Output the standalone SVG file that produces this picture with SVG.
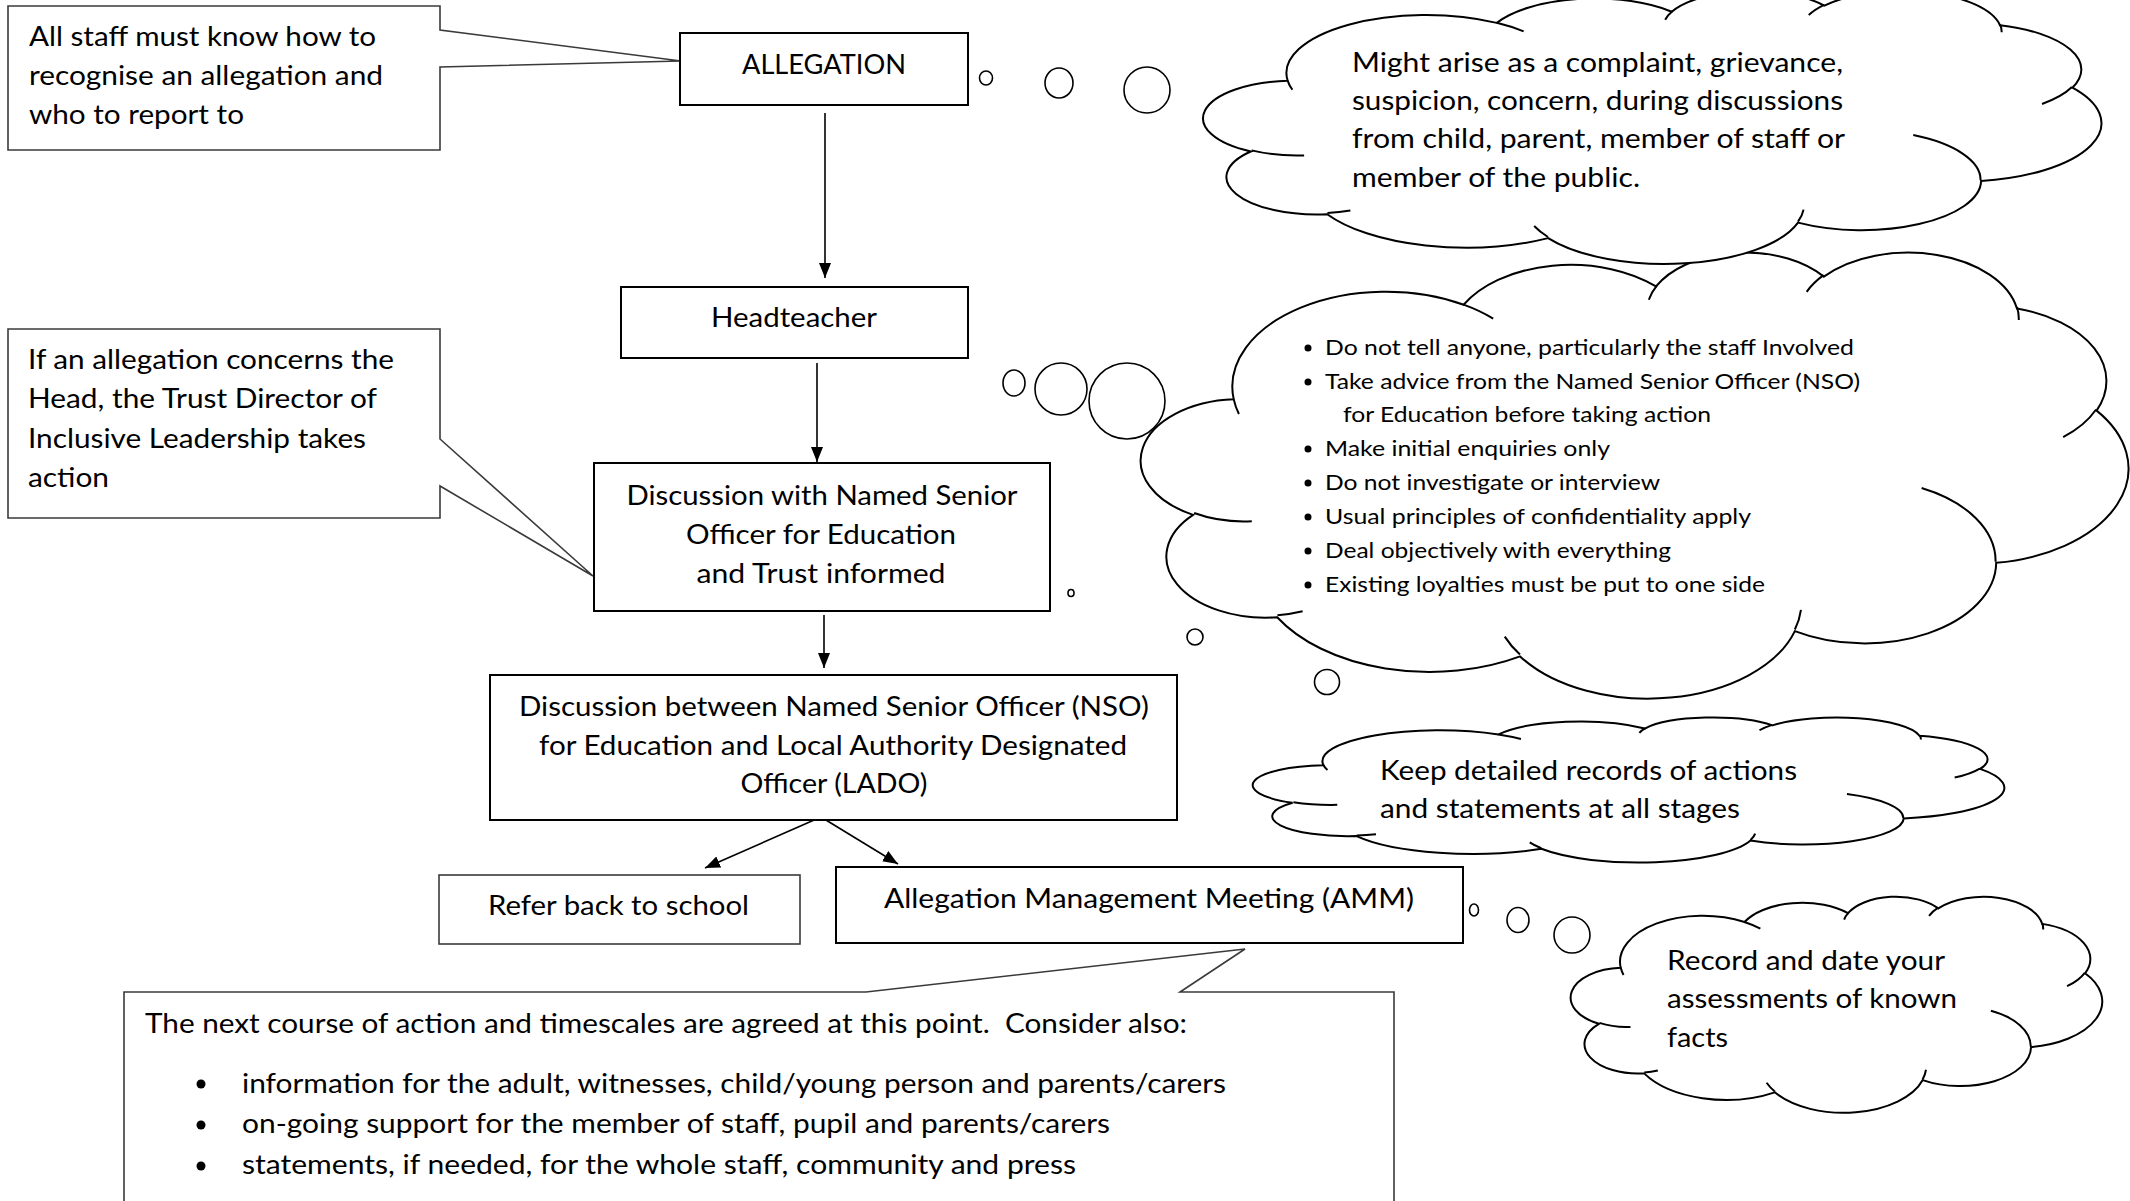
<svg xmlns="http://www.w3.org/2000/svg" width="2130" height="1201" viewBox="0 0 2130 1201">
<style>
.box{fill:#fff;stroke:#000;stroke-width:2}
.call{fill:#fff;stroke:#3a3a3a;stroke-width:1.6}
.cl{fill:#fff;stroke:#000;stroke-width:2}
.ci{fill:none;stroke:#000;stroke-width:2}
.bub{fill:#fff;stroke:#000;stroke-width:1.6}
.con{stroke:#000;stroke-width:1.6;fill:none}
text{font-family:Lato,"Liberation Sans",sans-serif;font-size:26px;fill:#000}
.sm{font-size:21px}
.mid{text-anchor:middle}
</style>
<defs>
<path id="cloudOut" vector-effect="non-scaling-stroke" d="M3900,14370 A6753,9190 0 0 1 14005,5202 A5333,7267 0 0 1 22457,3434 A4365,5945 0 0 1 29834,2482 A4857,6595 0 0 1 38319,5577 A5333,7273 0 0 1 41820,15461 A6775,9220 0 0 1 37407,30205 A5785,7867 0 0 1 28559,36815 A6752,9215 0 0 1 16484,39267 A7720,10543 0 0 1 5809,35476 A4360,5918 0 0 1 2115,25555 A4345,5945 0 0 1 3900,14370 Z"/>
<path id="cloudIn" vector-effect="non-scaling-stroke" d="M4693,26177 A4345,5945 0 0 1 2159,25379 M6928,34899 A4360,5918 0 0 1 5820,35280 M16478,39090 A6752,9215 0 0 1 15810,37349 M28827,34751 A6752,9215 0 0 1 28560,36660 M34129,22954 A5785,7867 0 0 1 37381,30090 M41798,15354 A5333,7273 0 0 1 40350,18030 M38324,5426 A4857,6595 0 0 1 38400,6690 M29078,3952 A4857,6595 0 0 1 29820,2340 M22141,4720 A4365,5945 0 0 1 22500,3330 M14000,5192 A6753,9190 0 0 1 15302,6543 M4127,15789 A6753,9190 0 0 1 3900,14371"/>
<marker id="ah" viewBox="0 0 15 12" refX="15" refY="6" markerWidth="15" markerHeight="12" markerUnits="userSpaceOnUse" orient="auto">
<path d="M0,0 L15,6 L0,12 Z" fill="#000"/>
</marker>
</defs>

<g id="connectors">
<line class="con" x1="825" y1="113" x2="825" y2="278" marker-end="url(#ah)"/>
<line class="con" x1="817" y1="363" x2="817" y2="462" marker-end="url(#ah)"/>
<line class="con" x1="824" y1="615" x2="824" y2="668" marker-end="url(#ah)"/>
<line class="con" x1="821" y1="817" x2="705" y2="868" marker-end="url(#ah)"/>
<line class="con" x1="821" y1="817" x2="898" y2="864" marker-end="url(#ah)"/>
</g>

<g id="note-all-staff">
<path class="call" d="M8,6 H440 V30 L681,61 L440,67 V150 H8 Z"/>
<text x="29" y="46" textLength="347" lengthAdjust="spacingAndGlyphs">All staff must know how to</text>
<text x="29" y="85" textLength="354" lengthAdjust="spacingAndGlyphs">recognise an allegation and</text>
<text x="29" y="124" textLength="215" lengthAdjust="spacingAndGlyphs">who to report to</text>
</g>

<g id="allegation">
<rect class="box" x="680" y="33" width="288" height="72"/>
<text class="mid" x="824" y="74" textLength="164" lengthAdjust="spacingAndGlyphs">ALLEGATION</text>
</g>

<g id="headteacher">
<rect class="box" x="621" y="287" width="347" height="71"/>
<text class="mid" x="794" y="327" textLength="166" lengthAdjust="spacingAndGlyphs">Headteacher</text>
</g>

<g id="note-head">
<path class="call" d="M8,329 H440 V439 L593,576 L440,486 V518 H8 Z"/>
<text x="28" y="369" textLength="366" lengthAdjust="spacingAndGlyphs">If an allegation concerns the</text>
<text x="28" y="408" textLength="349" lengthAdjust="spacingAndGlyphs">Head, the Trust Director of</text>
<text x="28" y="448" textLength="338" lengthAdjust="spacingAndGlyphs">Inclusive Leadership takes</text>
<text x="28" y="487" textLength="81" lengthAdjust="spacingAndGlyphs">action</text>
</g>

<g id="discussion-nso">
<rect class="box" x="594" y="463" width="456" height="148"/>
<text class="mid" x="822" y="505" textLength="391" lengthAdjust="spacingAndGlyphs">Discussion with Named Senior</text>
<text class="mid" x="821" y="544" textLength="270" lengthAdjust="spacingAndGlyphs">Officer for Education</text>
<text class="mid" x="821" y="583" textLength="249" lengthAdjust="spacingAndGlyphs">and Trust informed</text>
</g>

<g id="discussion-lado">
<rect class="box" x="490" y="675" width="687" height="145"/>
<text class="mid" x="834" y="716" textLength="630" lengthAdjust="spacingAndGlyphs">Discussion between Named Senior Officer (NSO)</text>
<text class="mid" x="833" y="755" textLength="588" lengthAdjust="spacingAndGlyphs">for Education and Local Authority Designated</text>
<text class="mid" x="834" y="793" textLength="187" lengthAdjust="spacingAndGlyphs">Officer (LADO)</text>
</g>

<g id="refer-back">
<rect class="call" x="439" y="875" width="361" height="69"/>
<text x="488" y="915" textLength="261" lengthAdjust="spacingAndGlyphs">Refer back to school</text>
</g>

<g id="amm">
<rect class="box" x="836" y="867" width="627" height="76"/>
<text x="884" y="908" textLength="530" lengthAdjust="spacingAndGlyphs">Allegation Management Meeting (AMM)</text>
</g>

<g id="note-amm">
<path class="call" d="M124,1215 V992 H866 L1245,949 L1180,992 H1394 V1215"/>
<text x="145" y="1033" textLength="1042" lengthAdjust="spacingAndGlyphs">The next course of action and timescales are agreed at this point.&#160; Consider also:</text>
<circle cx="201" cy="1084" r="4.5"/>
<circle cx="201" cy="1125" r="4.5"/>
<circle cx="201" cy="1166" r="4.5"/>
<text x="242" y="1093" textLength="984" lengthAdjust="spacingAndGlyphs">information for the adult, witnesses, child/young person and parents/carers</text>
<text x="242" y="1133" textLength="868" lengthAdjust="spacingAndGlyphs">on-going support for the member of staff, pupil and parents/carers</text>
<text x="242" y="1174" textLength="834" lengthAdjust="spacingAndGlyphs">statements, if needed, for the whole staff, community and press</text>
</g>

<g id="cloud-advice">
<g transform="translate(1145,251) scale(0.022755,0.010324)">
<use href="#cloudOut" class="cl"/>
<use href="#cloudIn" class="ci"/>
</g>
<ellipse class="bub" cx="1014" cy="383" rx="11" ry="13"/>
<ellipse class="bub" cx="1061" cy="389" rx="26" ry="26"/>
<ellipse class="bub" cx="1127" cy="401" rx="38" ry="38"/>
<ellipse class="bub" cx="1071" cy="593" rx="3" ry="3.5"/>
<ellipse class="bub" cx="1195" cy="637" rx="8" ry="8"/>
<ellipse class="bub" cx="1327" cy="682" rx="12.5" ry="12.5"/>
<circle cx="1308" cy="348" r="3.5"/>
<circle cx="1308" cy="382" r="3.5"/>
<circle cx="1308" cy="449" r="3.5"/>
<circle cx="1308" cy="483" r="3.5"/>
<circle cx="1308" cy="517" r="3.5"/>
<circle cx="1308" cy="551" r="3.5"/>
<circle cx="1308" cy="585" r="3.5"/>
<text class="sm" x="1325" y="355" textLength="529" lengthAdjust="spacingAndGlyphs">Do not tell anyone, particularly the staff Involved</text>
<text class="sm" x="1325" y="389" textLength="535" lengthAdjust="spacingAndGlyphs">Take advice from the Named Senior Officer (NSO)</text>
<text class="sm" x="1343" y="422" textLength="368" lengthAdjust="spacingAndGlyphs">for Education before taking action</text>
<text class="sm" x="1325" y="456" textLength="285" lengthAdjust="spacingAndGlyphs">Make initial enquiries only</text>
<text class="sm" x="1325" y="490" textLength="335" lengthAdjust="spacingAndGlyphs">Do not investigate or interview</text>
<text class="sm" x="1325" y="524" textLength="426" lengthAdjust="spacingAndGlyphs">Usual principles of confidentiality apply</text>
<text class="sm" x="1325" y="558" textLength="346" lengthAdjust="spacingAndGlyphs">Deal objectively with everything</text>
<text class="sm" x="1325" y="592" textLength="440" lengthAdjust="spacingAndGlyphs">Existing loyalties must be put to one side</text>
</g>

<g id="cloud-arise">
<g transform="translate(1207,-10) scale(0.020694,0.0063194)">
<use href="#cloudOut" class="cl"/>
<use href="#cloudIn" class="ci"/>
</g>
<ellipse class="bub" cx="986" cy="78" rx="6.5" ry="7"/>
<ellipse class="bub" cx="1059" cy="83" rx="14" ry="15"/>
<ellipse class="bub" cx="1147" cy="90" rx="23" ry="23"/>
<text x="1352" y="72" textLength="491" lengthAdjust="spacingAndGlyphs">Might arise as a complaint, grievance,</text>
<text x="1352" y="110" textLength="491" lengthAdjust="spacingAndGlyphs">suspicion, concern, during discussions</text>
<text x="1352" y="148" textLength="493" lengthAdjust="spacingAndGlyphs">from child, parent, member of staff or</text>
<text x="1352" y="187" textLength="288" lengthAdjust="spacingAndGlyphs">member of the public.</text>
</g>

<g id="cloud-records">
<g transform="translate(1256,717) scale(0.017315,0.0033565)">
<use href="#cloudOut" class="cl"/>
<use href="#cloudIn" class="ci"/>
</g>
<text x="1380" y="780" textLength="417" lengthAdjust="spacingAndGlyphs">Keep detailed records of actions</text>
<text x="1380" y="818" textLength="360" lengthAdjust="spacingAndGlyphs">and statements at all stages</text>
</g>

<g id="cloud-assess">
<ellipse class="bub" cx="1474" cy="910" rx="4.5" ry="6"/>
<ellipse class="bub" cx="1518" cy="920" rx="11" ry="12.5"/>
<ellipse class="bub" cx="1572" cy="935" rx="18" ry="18"/>
<g transform="translate(1573,896) scale(0.012245,0.005)">
<use href="#cloudOut" class="cl"/>
<use href="#cloudIn" class="ci"/>
</g>
<text x="1667" y="970" textLength="278" lengthAdjust="spacingAndGlyphs">Record and date your</text>
<text x="1667" y="1008" textLength="290" lengthAdjust="spacingAndGlyphs">assessments of known</text>
<text x="1667" y="1047" textLength="61" lengthAdjust="spacingAndGlyphs">facts</text>
</g>
</svg>
